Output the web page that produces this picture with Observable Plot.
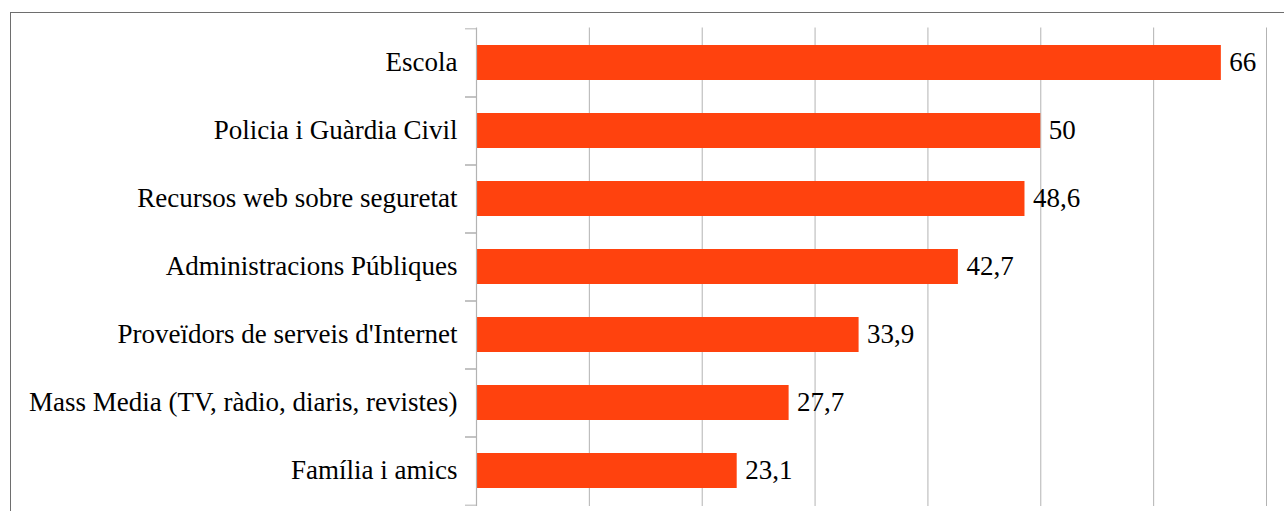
<!DOCTYPE html>
<html>
<head>
<meta charset="utf-8">
<script src="https://cdn.jsdelivr.net/npm/d3@7"></script>
<script src="https://cdn.jsdelivr.net/npm/@observablehq/plot@0.6"></script>
<style>
  html, body { margin: 0; padding: 0; background: #fff; }
  #wrap { position: relative; width: 1284px; height: 511px; overflow: hidden; }
  #frame { position: absolute; left: 10px; top: 12px; width: 1300px; height: 600px;
           border: 1.5px solid #6e6e6e; box-sizing: border-box; pointer-events: none; }
</style>
</head>
<body>
<div id="wrap"><div id="frame"></div></div>
<script>
const categories = [
  "Escola",
  "Policia i Guàrdia Civil",
  "Recursos web sobre seguretat",
  "Administracions Públiques",
  "Proveïdors de serveis d'Internet",
  "Mass Media (TV, ràdio, diaris, revistes)",
  "Família i amics"
];
const values = [66, 50, 48.6, 42.7, 33.9, 27.7, 23.1];
const gridTicks = [10, 20, 30, 40, 50, 60, 70];

const data = categories.map((c, i) => ({category: c, value: values[i]}));
const fmt = v => String(v).replace(".", ",");

const chartHeight = 511, plotTop = 27.5, plotBottom = 506;
const step = (plotBottom - plotTop) / categories.length;

const chart = Plot.plot({
  width: 1284,
  height: chartHeight,
  marginLeft: 476,
  marginRight: 18,
  marginTop: plotTop,
  marginBottom: chartHeight - plotBottom,
  style: {fontFamily: "'Liberation Serif', serif", fontSize: "27px", color: "#000", background: "transparent"},
  x: {domain: [0, 70], axis: null},
  y: {domain: categories, paddingInner: 0.49, paddingOuter: 0.245, label: null},
  marks: [
    Plot.gridX(gridTicks, {stroke: "#b3b3b3", strokeOpacity: 1, strokeWidth: 1}),
    Plot.barX(data, {x: "value", y: "category", fill: "#ff420e"}),
    Plot.ruleX([0], {stroke: "#b3b3b3", strokeWidth: 1.2}),
    Plot.axisY({tickSize: 0, tickPadding: 19, fontSize: 27, fill: "#000", dy: -0.5}),
    Plot.axisY({tickSize: 11, text: null, stroke: "#b3b3b3", dy: -step / 2}),
    Plot.axisY({tickSize: 11, text: null, stroke: "#b3b3b3", dy: step / 2}),
    Plot.text(data, {x: "value", y: "category", text: d => fmt(d.value), textAnchor: "start", dx: 8, dy: -0.5, fill: "#000", fontSize: 27})
  ]
});
chart.style.position = "absolute";
chart.style.left = "0";
chart.style.top = "0";
document.getElementById("wrap").prepend(chart);
</script>
</body>
</html>
